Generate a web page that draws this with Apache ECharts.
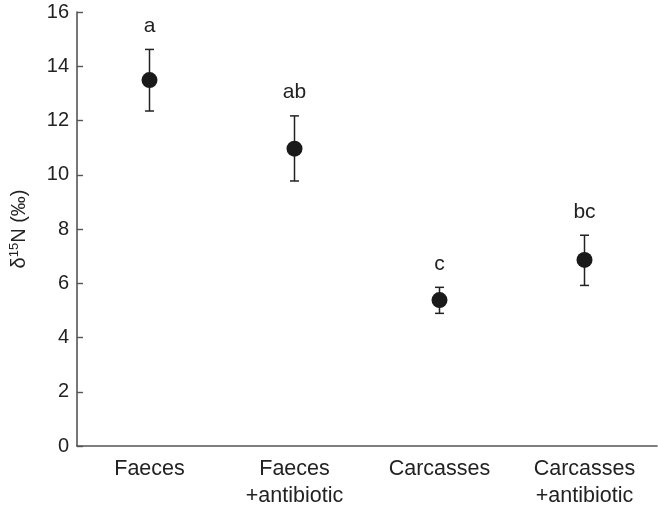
<!DOCTYPE html>
<html>
<head>
<meta charset="utf-8">
<script src="https://cdn.jsdelivr.net/npm/echarts@6/dist/echarts.min.js"></script>
<style>html,body{margin:0;padding:0;background:#fff}#c{width:658px;height:511px}</style>
</head>
<body>
<div id="c"></div>
<script>
var categories = ['Faeces', 'Faeces\n+antibiotic', 'Carcasses', 'Carcasses\n+antibiotic'];
var means = [13.49, 10.96, 5.38, 6.86];
var lower = [12.35, 9.77, 4.89, 5.92];
var upper = [14.62, 12.17, 5.85, 7.77];
var letters = ['a', 'ab', 'c', 'bc'];
var yTicks = [0, 2, 4, 6, 8, 10, 12, 14, 16];

var FONT = 'Liberation Sans, Arial, Helvetica, sans-serif';
var chart = echarts.init(document.getElementById('c'), null, {renderer: 'canvas'});
var errData = categories.map(function (c, i) { return [i, lower[i], upper[i]]; });
var letterData = categories.map(function (c, i) { return [i, upper[i], letters[i]]; });

chart.setOption({
  animation: false,
  backgroundColor: '#fff',
  grid: {left: 75, right: 1, top: 12, bottom: 65, containLabel: false},
  xAxis: {
    type: 'category',
    data: categories,
    boundaryGap: true,
    axisLine: {lineStyle: {color: '#555', width: 1.6}},
    axisTick: {inside: true, length: 6, lineStyle: {color: '#555', width: 1.4}},
    axisLabel: {color: '#222', fontFamily: FONT, fontSize: 21.5, lineHeight: 27, margin: 10}
  },
  yAxis: {
    type: 'value',
    min: yTicks[0], max: yTicks[yTicks.length - 1], interval: 2,
    splitLine: {show: false},
    axisLine: {show: true, lineStyle: {color: '#555', width: 1.6}},
    axisTick: {show: true, inside: true, length: 6, lineStyle: {color: '#555', width: 1.4}},
    axisLabel: {color: '#222', fontFamily: FONT, fontSize: 20, margin: 8},
    name: '{a|δ}{s|15}{a|N (‰)}',
    nameLocation: 'middle',
    nameRotate: 90,
    nameGap: 47,
    nameTextStyle: {
      rich: {
        a: {fontFamily: FONT, fontSize: 20, color: '#222', lineHeight: 22},
        s: {fontFamily: FONT, fontSize: 13, color: '#222', verticalAlign: 'top', lineHeight: 22}
      }
    }
  },
  series: [
    {
      type: 'custom',
      data: errData,
      renderItem: function (params, api) {
        var x = api.value(0);
        var lo = api.coord([x, api.value(1)]);
        var hi = api.coord([x, api.value(2)]);
        var w = 4.5;
        var st = {stroke: '#222', lineWidth: 1.5};
        return {
          type: 'group',
          children: [
            {type: 'line', shape: {x1: lo[0], y1: lo[1], x2: hi[0], y2: hi[1]}, style: st},
            {type: 'line', shape: {x1: lo[0] - w, y1: lo[1], x2: lo[0] + w, y2: lo[1]}, style: st},
            {type: 'line', shape: {x1: hi[0] - w, y1: hi[1], x2: hi[0] + w, y2: hi[1]}, style: st}
          ]
        };
      },
      z: 2
    },
    {
      type: 'scatter',
      data: means,
      symbol: 'circle',
      symbolSize: 16,
      itemStyle: {color: '#1a1a1a', opacity: 1},
      z: 3
    },
    {
      type: 'scatter',
      data: letterData,
      symbolSize: 2,
      itemStyle: {color: 'rgba(0,0,0,0)'},
      label: {
        show: true, position: 'top', distance: 12,
        formatter: function (p) { return p.value[2]; },
        color: '#222', opacity: 1, textBorderWidth: 0, textBorderColor: 'transparent',
        fontFamily: FONT, fontSize: 21
      },
      z: 4
    }
  ]
});
</script>
</body>
</html>
